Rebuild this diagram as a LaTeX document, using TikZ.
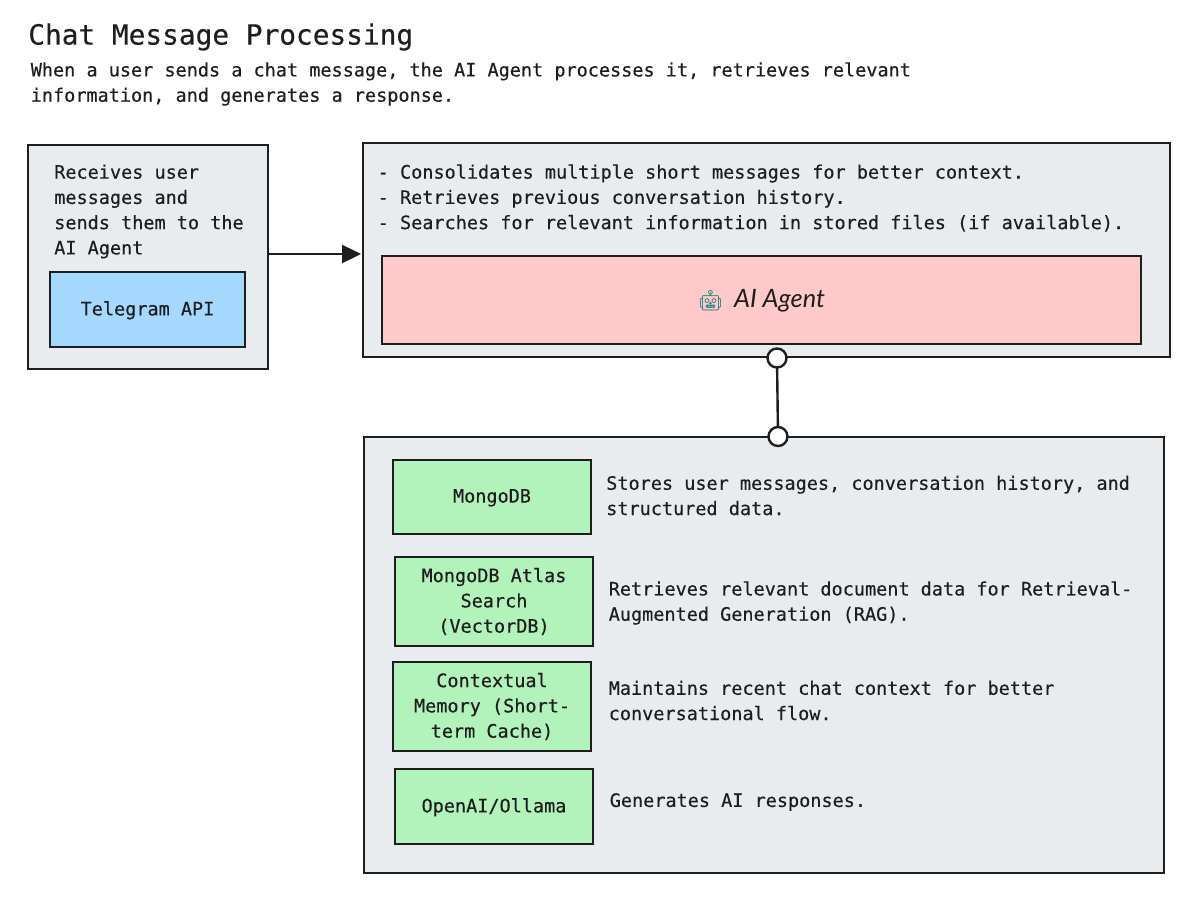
\documentclass[tikz,border=0pt]{standalone}
\usepackage{fontspec}
\setmainfont{DejaVu Sans Mono}[RawFeature={embolden=0.35}]
\newfontfamily\robotfont{Noto Emoji}
\newfontfamily\agentfont{Lato}
\usetikzlibrary{arrows.meta}
\def\px{0.75pt}
\definecolor{inkline}{HTML}{1E1E1E}
\definecolor{groupfill}{HTML}{E9ECEF}
\definecolor{bluefill}{HTML}{A5D8FF}
\definecolor{redfill}{HTML}{FFC9C9}
\definecolor{greenfill}{HTML}{B2F2BB}
\begin{document}
\begin{tikzpicture}[
  x=\px, y=-\px,
  every node/.style={
    text=inkline,
    font=\fontsize{13.88}{18.95}\selectfont
  },
  box/.style={
    draw=inkline,
    line width=2.4*\px,
    outer sep=0pt,
    inner sep=0pt,
    text depth=1.8pt,
    align=center
  },
  group box/.style={box, fill=groupfill},
  tool box/.style={box, fill=greenfill, minimum width=198*\px},
  note/.style={anchor=west, align=left, inner sep=0pt},
  port/.style={
    circle,
    draw=inkline,
    fill=white,
    line width=2.4*\px,
    minimum size=19*\px,
    inner sep=0pt,
    outer sep=0pt
  },
  link/.style={draw=inkline, line width=2.4*\px}
]
\useasboundingbox (0,0) rectangle (1198,906);
\fill[white] (0,0) rectangle (1198,906);

% heading
\node[note, font=\fontsize{20.85}{25}\selectfont] (title) at (28,37) {Chat Message Processing};
\node[note] (intro) at (30.5,84) {When a user sends a chat message, the AI Agent processes it, retrieves relevant\\information, and generates a response.};

% left group
\node[group box, minimum width=240*\px, minimum height=224*\px] (inbox) at (148,257) {};
\node[note] (inboxtext) at (54,211.5) {Receives user\\messages and\\sends them to the\\AI Agent};
\node[box, fill=bluefill, minimum width=195*\px, minimum height=75*\px] (telegram) at (147.5,309.5) {Telegram API};

% agent group
\node[group box, minimum width=807*\px, minimum height=214*\px] (agentgroup) at (766.5,250) {};
\node[note] (agenttext) at (377.5,198) {- Consolidates multiple short messages for better context.\\- Retrieves previous conversation history.\\- Searches for relevant information in stored files (if available).};
\node[box, fill=redfill, minimum width=759*\px, minimum height=88*\px] (agent) at (761.5,300)
  {{\robotfont\fontsize{15}{19}\selectfont\textcolor{teal}{🤖}}\hspace{8pt}{\agentfont\itshape\fontsize{19}{19}\selectfont AI Agent}};

% tools group
\node[group box, minimum width=800*\px, minimum height=436*\px] (toolsgroup) at (764,655) {};
\foreach \toolname/\cx/\cy/\hgt/\toollabel in {
  mongo/492/497/74/{MongoDB},
  atlas/494/601.5/89/{MongoDB Atlas\\Search\\(VectorDB)},
  memory/492/706.5/89/{Contextual\\Memory (Short-\\term Cache)},
  openai/494/806.5/75/{OpenAI/Ollama}%
}{
  \node[tool box, minimum height=\hgt*\px] (\toolname) at (\cx,\cy) {\toollabel};
}
\foreach \toolname/\cx/\cy/\notetext in {
  mongo/606/495.5/{Stores user messages, conversation history, and\\structured data.},
  atlas/608.5/603/{Retrieves relevant document data for Retrieval-\\Augmented Generation (RAG).},
  memory/608.5/700.5/{Maintains recent chat context for better\\conversational flow.},
  openai/609.5/802/{Generates AI responses.}%
}{
  \node[note] (\toolname text) at (\cx,\cy) {\notetext};
}

% connectors
\draw[link, -{Triangle[length=19*\px,width=18*\px]}, shorten >=2*\px] (inbox.east |- 0,254) -- (agentgroup.west |- 0,254);
\node[port] (portagent) at (777,358) {};
\node[port] (porttools) at (778,436.5) {};
\draw[link] (portagent) -- (porttools);
\end{tikzpicture}
\end{document}
